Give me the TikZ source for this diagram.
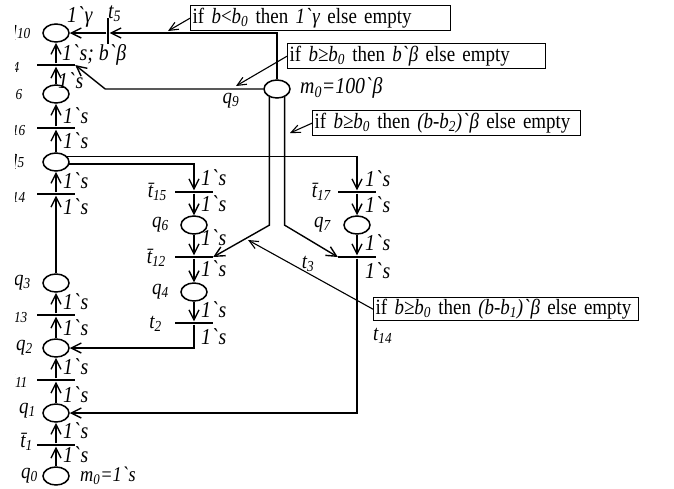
\documentclass[tikz,border=0pt]{standalone}
\usepackage{fontspec}
\setmainfont{Liberation Serif}[FakeStretch=0.87]
\usetikzlibrary{arrows.meta,shapes.geometric,calc}
\newcommand{\ssub}[1]{\textsubscript{#1}}
\newcommand{\gr}{\textasciigrave}
\newcommand{\ones}{1\gr s}
\begin{document}
\begin{tikzpicture}[x=1pt,y=-1pt, font=\fontsize{21.8}{24}\selectfont,
 place/.style={draw, ellipse, line width=1.5pt, minimum width=26pt, minimum height=18pt, inner sep=0pt},
 hbar/.style={fill=black, minimum width=38pt, minimum height=2.8pt, inner sep=0pt},
 vbar/.style={fill=black, minimum width=2.8pt, minimum height=26pt, inner sep=0pt},
 arc/.style={line width=1.4pt, -{Straight Barb[length=10pt,width=10pt,line width=1.4pt]}},
 ann/.style={line width=1.1pt, -{Straight Barb[length=9pt,width=8pt,line width=1.1pt]}},
 note/.style={draw, line width=1.4pt, anchor=north west, inner xsep=2pt, inner ysep=0pt, align=left, minimum height=25pt},
 lbl/.style={inner sep=0pt, anchor=west, font=\fontsize{22.8}{24}\selectfont\itshape},
 nm/.style={inner sep=0pt, anchor=east, font=\fontsize{21.8}{24}\selectfont\itshape}
]
\useasboundingbox (0,0) rectangle (674,488);
% left column
\node[place] (q0) at (56,476) {};
\node[hbar]  (t1) at (56,445) {};
\node[place] (q1) at (56,413) {};
\node[hbar]  (t11) at (56,380) {};
\node[place] (q2) at (56,348) {};
\node[hbar]  (t13) at (56,315) {};
\node[place] (q3) at (56,283) {};
\node[hbar]  (t14) at (56,194) {};
\node[place] (q5) at (56,162) {};
\node[hbar]  (t16) at (56,128) {};
\node[place] (q6) at (56,94) {};
\node[hbar]  (t4) at (56,65) {};
\node[place] (q10) at (56,33) {};
% middle column
\node[hbar]  (t15) at (194,192) {};
\node[place] (q6m) at (194,225) {};
\node[hbar]  (t12) at (194,257) {};
\node[place] (q4) at (194,292) {};
\node[hbar]  (t2) at (194,323) {};
% right column
\node[hbar]  (t17) at (357,192) {};
\node[place] (q7) at (357,225) {};
\node[hbar]  (t3) at (357,257) {};
% q9 and t5
\node[place] (q9) at (277,89) {};
\node[vbar]  (t5) at (108,31) {};

% left column arcs
\draw[arc] (q0) -- (t1);
\draw[arc] (t1) -- (q1);
\draw[arc] (q1) -- (t11);
\draw[arc] (t11) -- (q2);
\draw[arc] (q2) -- (t13);
\draw[arc] (t13) -- (q3);
\draw[arc] (q3) -- (t14);
\draw[arc] (t14) -- (q5);
\draw[arc] (q5) -- (t16);
\draw[arc] (t16) -- (q6);
\draw[arc] (q6) -- (t4);
\draw[arc] (t4) -- (q10);
% middle
\draw[arc] (t15) -- (q6m);
\draw[arc] (q6m) -- (t12);
\draw[arc] (t12) -- (q4);
\draw[arc] (q4) -- (t2);
\draw[arc] (t2.south) -- (t2 |- q2) -- (q2.east);
% right
\draw[arc] (t17) -- (q7);
\draw[arc] (q7) -- (t3);
\draw[arc] (t3.south) -- (t3 |- q1) -- (q1.east);
% from q5
\draw[arc] (q5.25) -- (q5.25 -| t17) -- (t17.north);
\draw[arc] (q5.-9) -- (q5.-9 -| t15) -- (t15.north);
% from q9
\draw[arc] (q9.north) -- (q9.north |- q10.east) -- (t5.east |- q10.east);
\draw[arc] (t5.west |- q10.east) -- (q10.east);
\draw[arc] (q9.west) -- ++(-158,0) -- (t4.east);
\draw[arc] (q9.227) -- ++(0,128) -- (t12.east);
\draw[arc] (q9.313) -- ++(0,128) -- (t3.west);

% notes
\node[note, text width=256pt] (n1) at (190,5) {if \textit{b}<\textit{b\ssub{0}} then \textit{1\gr γ} else empty};
\node[note, text width=254pt] (n2) at (287,43) {if \textit{b≥b\ssub{0}} then \textit{b\gr β} else empty};
\node[note, text width=264pt] (n3) at (312,110) {if \textit{b≥b\ssub{0}} then \textit{(b-b\ssub{2})\gr β} else empty};
\node[note, text width=261pt, minimum height=23pt] (n4) at (373,297) {if \textit{b≥b\ssub{0}} then \textit{(b-b\ssub{1})\gr β} else empty};
\coordinate (a1) at (168,31);
\coordinate (a2) at (236,86);
\coordinate (a3) at (290,133);
\coordinate (a4) at (248,240);
\draw[ann] (n1.west) -- (a1);
\draw[ann] (n2.west) -- (a2);
\draw[ann] (n3.west) -- (a3);
\draw[ann] (n4.west) -- (a4);

% arc labels left
\node[lbl] (l1) at (63,455) {\ones};
\node[lbl] (l2) at (63,431) {\ones};
\node[lbl] (l3) at (63,395) {\ones};
\node[lbl] (l4) at (63,367) {\ones};
\node[lbl] (l5) at (63,328) {\ones};
\node[lbl] (l6) at (63,302) {\ones};
\node[lbl] (l7) at (63,207) {\ones};
\node[lbl] (l8) at (63,181) {\ones};
\node[lbl] (l9) at (63,141) {\ones};
\node[lbl] (l10) at (63,116) {\ones};
\node[lbl] (l11) at (58,81) {\ones};
\node[lbl] (l12) at (62,55) {1\gr s; b\gr β};
\node[lbl] (l13) at (67,17) {1\gr γ};
\node[lbl] (l14) at (108,14) {t\ssub{5}};
% middle labels
\node[lbl] (m1) at (201,178) {\ones};
\node[lbl] (m2) at (201,204) {\ones};
\node[lbl] (m3) at (201,238) {\ones};
\node[lbl] (m4) at (201,269) {\ones};
\node[lbl] (m5) at (201,310) {\ones};
\node[lbl] (m6) at (201,337) {\ones};
% right labels
\node[lbl] (r1) at (365,179) {\ones};
\node[lbl] (r2) at (365,205) {\ones};
\node[lbl] (r3) at (365,243) {\ones};
\node[lbl] (r4) at (365,271) {\ones};
% other labels
\node[lbl, font=\fontsize{21}{24}\selectfont\itshape] (m0a) at (80,476) {m\ssub{0}=1\gr s};
\node[lbl] (m0b) at (300,88) {m\ssub{0}=100\gr β};
\node[nm, anchor=center] (lq9) at (231,101) {q\ssub{9}};
\node[nm, anchor=center] (lt3) at (308,264) {t\ssub{3}};
\node[nm, anchor=west] (lt14) at (373,336) {t\ssub{14}};
\node[nm] (lt15) at (167,192) {\={t}\ssub{15}};
\node[nm] (lq6m) at (169,225) {q\ssub{6}};
\node[nm] (lt12) at (166,258) {\={t}\ssub{12}};
\node[nm] (lq4) at (169,292) {q\ssub{4}};
\node[nm] (lt2) at (162,324) {t\ssub{2}};
\node[nm] (lt17) at (331,192) {\={t}\ssub{17}};
\node[nm] (lq7) at (331,225) {q\ssub{7}};
% left names (cut at the left edge as in the picture)
\begin{scope}
\clip (15,0) rectangle (200,488);
\node[nm] (lq10) at (31,33) {q\ssub{10}};
\node[nm] (lt4) at (20,65) {t\ssub{4}};
\node[nm] (lq6) at (23,94) {q\ssub{6}};
\node[nm] (lt16) at (26,128) {t\ssub{16}};
\node[nm] (lq5) at (25,162) {q\ssub{5}};
\node[nm] (lt14b) at (26,195) {t\ssub{14}};
\node[nm] (lq3) at (31,283) {q\ssub{3}};
\node[nm] (lt13) at (28,315) {t\ssub{13}};
\node[nm] (lq2) at (33,348) {q\ssub{2}};
\node[nm] (lt11) at (28,380) {t\ssub{11}};
\node[nm] (lq1) at (36,411) {q\ssub{1}};
\node[nm] (lt1) at (33,442) {\={t}\ssub{1}};
\node[nm] (lq0) at (38,476) {q\ssub{0}};
\end{scope}
\end{tikzpicture}
\end{document}
